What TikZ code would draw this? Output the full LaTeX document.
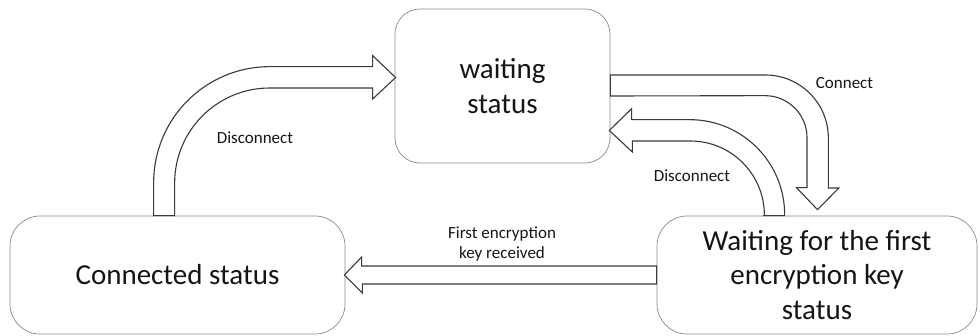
\documentclass[tikz,border=0pt]{standalone}
\usepackage{fontspec}
\setmainfont{Carlito}
\usetikzlibrary{calc}
\definecolor{boxline}{HTML}{8A8A8A}
\definecolor{arrowline}{HTML}{3A3A3A}
\definecolor{ink}{HTML}{151515}
\tikzset{
  statebox/.style={draw=boxline, line width=0.7pt, rounded corners=#1, fill=white,
    inner sep=0pt, align=center, text=ink, font=\fontsize{29}{34.5}\selectfont},
  blockarrow/.style={draw=arrowline, fill=white, line width=1.1pt, line join=miter},
  edgelabel/.style={text=ink, font=\fontsize{17}{20.5}\selectfont, inner sep=0pt, align=center}
}
\begin{document}
\begin{tikzpicture}[x=1pt,y=1pt]
\useasboundingbox (0,0) rectangle (980,-335);

% states
\node[statebox=25pt, minimum width=215pt, minimum height=154pt] (W) at (502.5,-86) {waiting\\status};
\node[statebox=30pt, minimum width=335pt, minimum height=118pt] (C) at (177.5,-275) {Connected status};
\node[statebox=30pt, minimum width=320pt, minimum height=118pt] (K) at (817,-275) {Waiting for the first\\encryption key\\status};

% Connected -> waiting (Disconnect)
\draw[blockarrow] ($(C.north west)+(144,0)$) -- ++(0,33)
  arc[start angle=180, end angle=90, radius=116] -- ++(103,0) -- ++(0,11)
  -- ($(W.west)+(1,8.5)$) -- ++(-23,-21.5) -- ++(0,11) -- ++(-103,0)
  arc[start angle=90, end angle=180, radius=95]
  -- ($(C.north west)+(165,0)$) -- cycle;

% waiting -> Waiting for key (Connect)
\draw[blockarrow] ($(W.east)+(0,11)$) -- ++(155,0)
  arc[start angle=90, end angle=0, radius=63] -- ++(0,-50) -- ++(10.5,0)
  -- ($(K.north)+(0.5,6)$) -- ++(-21,22) -- ++(10.5,0) -- ++(0,50)
  arc[start angle=0, end angle=90, radius=42]
  -- ($(W.east)+(0,-10)$) -- cycle;

% Waiting for key -> waiting (Disconnect)
\draw[blockarrow] ($(K.north west)+(128,0)$) -- ++(0,1)
  arc[start angle=0, end angle=90, radius=95] -- ++(-58,0) -- ++(0,11)
  -- ($(W.east)+(-1,-44.5)$) -- ++(23,-21.5) -- ++(0,11) -- ++(58,0)
  arc[start angle=90, end angle=0, radius=74]
  -- ($(K.north west)+(107,0)$) -- cycle;

% Waiting for key -> Connected (First encryption key received)
\draw[blockarrow] ($(K.west)+(0,9)$) -- ++(-295,0) -- ++(0,9)
  -- ($(C.east)+(-1,0)$) -- ++(18,-18) -- ++(0,9)
  -- ($(K.west)+(0,-9)$) -- cycle;

% transition labels
\node[edgelabel, anchor=base] (l1) at (255,-143) {Disconnect};
\node[edgelabel, anchor=base] (l2) at (844.5,-88) {Connect};
\node[edgelabel, anchor=base] (l3) at (692,-181) {Disconnect};
\node[edgelabel] (l4) at (502,-244) {First encryption\\key received};
\end{tikzpicture}
\end{document}
